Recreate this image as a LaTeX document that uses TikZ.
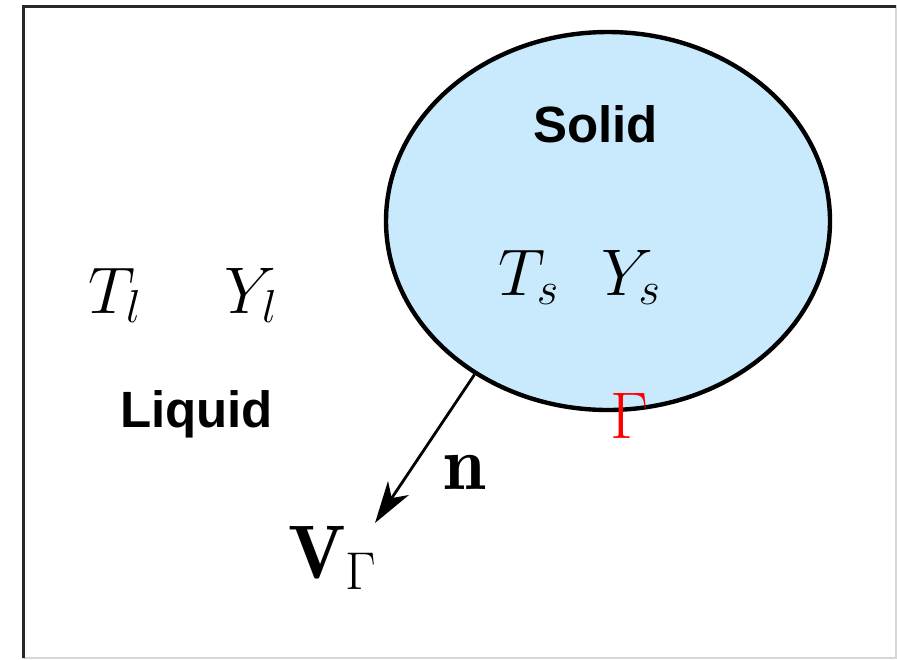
\RequirePackage{fix-cm}
\documentclass[tikz,border=0pt]{standalone}
\usepackage{fontspec}
\usepackage{amsmath}
\usepackage{tikz}
\usetikzlibrary{arrows.meta, shapes.geometric}
\newfontfamily\phasefont{Liberation Sans}
\definecolor{solidblue}{RGB}{200,234,252}
\definecolor{framedark}{RGB}{40,40,40}
\definecolor{framelight}{RGB}{215,215,215}
\tikzset{
	phase/.style={font=\phasefont\bfseries\fontsize{25.5}{30}\selectfont, anchor=base},
	field/.style={font=\fontsize{33}{40}\selectfont, anchor=base, inner sep=0pt},
	vec/.style={font=\fontsize{38}{46}\selectfont, anchor=base, inner sep=0pt},
	grain/.style={ellipse, draw, line width=2.2pt, fill=solidblue, inner sep=0pt,
		minimum width=222pt, minimum height=189pt},
	arr/.style={-{Stealth[length=21pt, width=12.5pt, inset=6pt]}, line width=1.4pt},
}
\begin{document}
\begin{tikzpicture}[x=0.5pt, y=-0.5pt]
	\useasboundingbox (0,0) rectangle (897,659);
	
	% frame
	\draw[framelight, line width=0.6pt] (23,6) -- (896,6) -- (896,658) -- (23,658);
	\draw[framedark, line width=1.5pt] (23,658) -- (23,6) -- (896,6);
	
	\node[grain] (solid) at (608,221) {};
	
	\node[phase] (solidlbl) at (595.5,142) {Solid};
	\node[phase] (liquidlbl) at (196.5,427) {Liquid};
	
	\node[field] (ts) at (529,295) {$T_s$};
	\node[field] (ys) at (631,295) {$Y_s$};
	\node[field] (tl) at (115,313) {$T_l$};
	\node[field] (yl) at (251,313) {$Y_l$};
	\node[field, text=red] (gamma) at (629,438) {$\Gamma$};
	
	\node[vec] (normal) at (465,489) {$\mathbf{n}$};
	\node[vec] (vel) at (333,578) {$\mathbf{V}_{\Gamma}$};
	\coordinate (tip) at (375,523);
	
	\draw[arr] (solid.229) -- (tip);
	
\end{tikzpicture}
\end{document}
